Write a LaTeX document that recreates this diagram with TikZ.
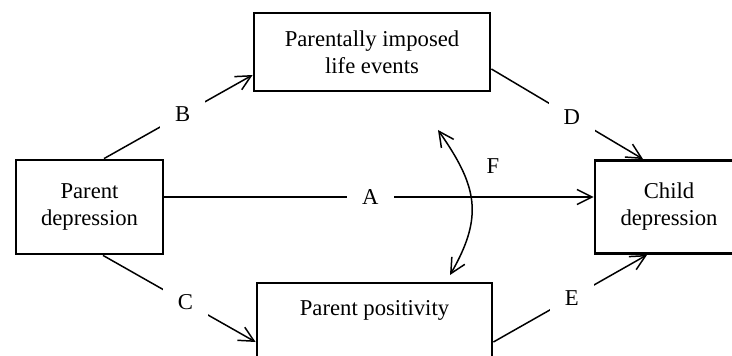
\documentclass[tikz,border=0pt]{standalone}
\usepackage{fontspec}
\setmainfont{Liberation Serif}
\usetikzlibrary{arrows.meta}

\begin{document}
\begin{tikzpicture}[scale=1, font=\fontsize{12.9}{15.4}\selectfont,
    >={Straight Barb[length=0.3cm, width=0.3cm]}]

\useasboundingbox (0,0) rectangle (14.64,7.1);
\clip (0,0) rectangle (14.64,7.1);

\begin{scope}[box/.style = {rectangle, draw, line width=1.6pt, align=center}]
    \node[box, minimum width=2.94cm, minimum height=1.88cm] (1) at (1.79, 2.96) {Parent\\depression};
    \node[box, minimum width=4.72cm, minimum height=1.56cm] (2) at (7.44, 6.06) {Parentally imposed\\life events};
    \node[box, minimum width=4.70cm, minimum height=1.56cm, text height=0.32cm, text depth=0.6cm] (3) at (7.49, 0.66) {Parent positivity};
    \node[box, minimum width=2.96cm, minimum height=1.86cm] (4) at (13.38, 2.96) {Child\\depression};
\end{scope}

\begin{scope}[line width=0.85pt, lab/.style = {fill=white, inner sep=0.3cm}]
    \draw[->] ([xshift=0.29cm]1.north) -- node[lab, pos=0.53] {B} ([yshift=-0.46cm]2.west);
    \draw[->] ([yshift=-0.34cm]2.east) -- node[lab, pos=0.53] {D} ([xshift=-0.52cm]4.north);
    \draw[->] ([yshift=0.2cm]1.east) -- node[lab, pos=0.48] {A} ([yshift=0.2cm]4.west);
    \draw[->] ([xshift=0.27cm]1.south) -- node[lab, pos=0.54] {C} ([yshift=-0.4cm]3.west);
    \draw[->] ([yshift=-0.4cm]3.east) -- node[lab, pos=0.51] {E} ([xshift=-0.44cm]4.south);

    % correlation between the two mediators
    \coordinate (f1) at (8.76, 4.5);
    \coordinate (f2) at (9.0, 1.6);
    \draw[<->] (f1) to [out=-55, in=60, looseness=1.2] (f2);
    \node (5) at (9.86, 3.78) {F};
\end{scope}

\end{tikzpicture}
\end{document}
